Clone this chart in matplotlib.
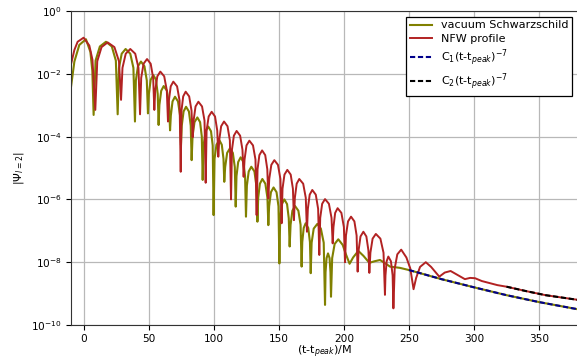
import numpy as np
import matplotlib.pyplot as plt

plt.rcParams["font.family"] = ["DejaVu Sans"]
plt.rcParams["font.size"] = 8

# |Psi_{l=2}|, stored as log10 values
# vacuum Schwarzschild (olive)
vac_t = [
    -10, -7.4, -3.6, 1.5, 4.9, 6.4, 7.4,
    8.9, 12.2, 16.9, 21.4, 24.5, 25.9,
    26.9, 29.0, 32.0, 35.6, 38.0, 39.2,
    39.9, 41.5, 43.8, 46.5, 48.3, 49.2,
    49.9, 51.3, 53.3, 55.4, 56.7, 57.4,
    58.0, 59.4, 61.3, 63.8, 65.4, 66.2,
    66.8, 68.1, 70.0, 72.3, 73.9, 74.6,
    75.2, 76.6, 78.5, 80.7, 82.1, 82.8,
    83.5, 85.0, 87.2, 89.3, 90.6, 91.3,
    92.0, 93.5, 95.6, 97.7, 99.0, 99.7,
    100.4, 101.9, 104.1, 106.0, 107.3, 107.9,
    108.6, 110.1, 112.3, 114.5, 116.0, 116.7,
    117.3, 118.6, 120.5, 122.6, 123.9, 124.6,
    125.3, 126.7, 128.7, 131.1, 132.6, 133.4,
    134.0, 135.3, 137.2, 139.5, 141.1, 141.8,
    142.4, 143.8, 145.8, 148.1, 149.6, 150.3,
    150.9, 152.2, 154.1, 156.2, 157.5, 158.2,
    158.9, 160.3, 162.3, 164.9, 166.6, 167.4,
    167.9, 169.0, 170.5, 172.5, 173.8, 174.4,
    175.1, 176.7, 179.5, 182.2, 184.4, 185.4,
    185.8, 186.6, 187.7, 188.9, 189.6, 190.0,
    190.9, 192.8, 195.6, 199.0, 201.5, 204.3, 207.0, 211.0, 215.0, 219.5,
    223.5, 227.7, 231.5, 235.4, 243.0, 250.0, 275.0, 300.0, 325.0, 350.0, 380.0,
]
vac_log = [
    -2.42, -1.61, -1.08, -0.9, -1.3, -1.9, -3.31,
    -1.58, -1.13, -0.98, -1.13, -1.58, -3.29,
    -1.81, -1.36, -1.21, -1.36, -1.81, -3.52,
    -2.21, -1.76, -1.61, -1.76, -2.21, -3.26,
    -2.64, -2.19, -2.04, -2.19, -2.64, -3.63,
    -2.99, -2.54, -2.39, -2.54, -2.99, -3.8,
    -3.33, -2.88, -2.73, -2.88, -3.33, -4.27,
    -3.65, -3.2, -3.05, -3.2, -3.65, -4.75,
    -3.99, -3.54, -3.39, -3.54, -3.99, -5.38,
    -4.28, -3.83, -3.68, -3.83, -4.28, -6.5,
    -4.71, -4.26, -4.11, -4.26, -4.71, -5.44,
    -4.97, -4.52, -4.37, -4.52, -4.97, -6.23,
    -5.26, -4.81, -4.66, -4.81, -5.26, -6.55,
    -5.56, -5.11, -4.96, -5.11, -5.56, -6.71,
    -5.95, -5.5, -5.35, -5.5, -5.95, -6.82,
    -6.22, -5.77, -5.62, -5.77, -6.22, -8.04,
    -6.6, -6.15, -6.0, -6.15, -6.6, -7.5,
    -6.81, -6.36, -6.21, -6.36, -6.81, -8.14,
    -7.36, -6.91, -6.76, -6.91, -7.36, -8.35,
    -7.38, -6.93, -6.78, -6.93, -7.38, -9.36,
    -8.32, -7.87, -7.72, -7.87, -8.32, -9.1,
    -7.87, -7.42, -7.27, -7.45, -7.75, -8.05, -7.85, -7.64, -7.8, -8.02,
    -7.97, -7.93, -8.03, -8.14, -8.18, -8.25, -8.54, -8.8, -9.05, -9.27, -9.5,
]

# NFW profile (red)
nfw_t = [
    -10, -7.4, -4.9, -0.3, 4.1, 6.5, 8.7,
    10.2, 13.5, 18.2, 23.4, 26.9, 28.5,
    29.6, 32.1, 35.6, 39.4, 41.9, 43.1,
    44.0, 45.8, 48.5, 51.3, 53.2, 54.1,
    54.8, 56.4, 58.7, 61.7, 63.7, 64.6,
    65.3, 66.7, 68.7, 71.6, 73.5, 74.4,
    75.0, 76.3, 78.2, 80.9, 82.7, 83.6,
    84.3, 85.8, 88.0, 90.8, 92.7, 93.6,
    94.3, 95.9, 98.2, 100.8, 102.5, 103.3,
    104.0, 105.5, 107.7, 110.4, 112.2, 113.1,
    113.8, 115.3, 117.4, 120.1, 121.9, 122.8,
    123.5, 125.0, 127.2, 130.0, 131.9, 132.8,
    133.5, 134.9, 137.0, 139.4, 141.0, 141.8,
    142.5, 144.1, 146.4, 149.2, 151.1, 152.0,
    152.7, 154.2, 156.4, 159.0, 160.7, 161.5,
    162.2, 163.6, 165.6, 168.6, 170.6, 171.5,
    172.2, 173.6, 175.6, 178.3, 180.1, 181.0,
    181.7, 183.2, 185.4, 188.4, 190.4, 191.3,
    191.9, 193.2, 195.1, 198.0, 199.9, 200.8,
    201.5, 203.1, 205.4, 208.0, 209.7, 210.5,
    211.2, 212.7, 214.9, 217.2, 218.8, 219.5,
    220.3, 222.0, 224.5, 228.0, 230.4, 231.5,
    231.9, 232.8, 234.1, 236.1, 237.4, 238.0,
    239.0, 241.0, 244.0, 248.0, 251.0, 253.5,
    255.5, 258.5, 262.9, 267.0, 273.3, 277.5, 282.0, 287.0, 293.0,
    297.0, 300.8, 306.0, 312.3, 318.0, 325.0, 340.0, 355.0, 380.0,
]
nfw_log = [
    -1.7, -1.24, -0.98, -0.85, -1.1, -1.55, -3.15,
    -1.6, -1.15, -1.0, -1.15, -1.6, -2.83,
    -1.81, -1.36, -1.21, -1.36, -1.81, -3.29,
    -2.13, -1.68, -1.53, -1.68, -2.13, -3.15,
    -2.53, -2.08, -1.93, -2.08, -2.53, -3.52,
    -2.85, -2.4, -2.25, -2.4, -2.85, -5.12,
    -3.17, -2.72, -2.57, -2.72, -3.17, -4.02,
    -3.49, -3.04, -2.89, -3.04, -3.49, -5.47,
    -3.81, -3.36, -3.21, -3.36, -3.81, -4.64,
    -4.12, -3.67, -3.52, -3.67, -4.12, -6.0,
    -4.42, -3.97, -3.82, -3.97, -4.42, -5.28,
    -4.73, -4.28, -4.13, -4.28, -4.73, -6.5,
    -5.04, -4.59, -4.44, -4.59, -5.04, -5.97,
    -5.35, -4.9, -4.75, -4.9, -5.35, -6.76,
    -5.66, -5.21, -5.06, -5.21, -5.66, -6.66,
    -5.95, -5.5, -5.35, -5.5, -5.95, -7.03,
    -6.3, -5.85, -5.7, -5.85, -6.3, -7.77,
    -6.59, -6.14, -5.99, -6.14, -6.59, -7.4,
    -6.88, -6.43, -6.28, -6.43, -6.88, -8.0,
    -7.15, -6.7, -6.55, -6.7, -7.15, -8.3,
    -7.63, -7.18, -7.03, -7.18, -7.63, -8.34,
    -7.7, -7.25, -7.1, -7.25, -7.7, -9.04,
    -8.42, -7.97, -7.82, -7.97, -8.42, -9.47,
    -8.2, -7.75, -7.6, -7.85, -8.2, -8.86,
    -8.5, -8.15, -8.0, -8.15, -8.46, -8.33, -8.28, -8.4, -8.54,
    -8.5, -8.51, -8.6, -8.67, -8.73, -8.78, -8.92, -9.05, -9.2,
]

# power-law tails
c1_t = [250, 275, 300, 325, 350, 380]
c1_log = [-8.25, -8.54, -8.8, -9.05, -9.27, -9.5]
c2_t = [325, 340, 355, 380]
c2_log = [-8.78, -8.92, -9.05, -9.2]

fig = plt.figure(figsize=(5.77, 3.6), dpi=100)
ax = fig.add_axes([71 / 577, 35 / 360, 507 / 577, 314 / 360])

ax.plot(vac_t, 10 ** np.array(vac_log), color="#808000", lw=1.5, label="vacuum Schwarzschild")
ax.plot(nfw_t, 10 ** np.array(nfw_log), color="#b22222", lw=1.4, label="NFW profile")
ax.plot(c1_t, 10 ** np.array(c1_log), color="#00008b", lw=1.5, ls=(0, (2.5, 1.3)),
        label=r"C$_1$(t-t$_{peak}$)$^{-7}$")
ax.plot(c2_t, 10 ** np.array(c2_log), color="black", lw=1.5, ls=(0, (2.5, 1.3)),
        label=r"C$_2$(t-t$_{peak}$)$^{-7}$")

ax.set_yscale("log")
ax.set_xlim(-10, 380)
ax.set_ylim(1e-10, 1e0)
ax.set_yticks([1e0, 1e-2, 1e-4, 1e-6, 1e-8, 1e-10])
ax.minorticks_off()
ax.set_xticks([0, 50, 100, 150, 200, 250, 300, 350])
ax.tick_params(labelsize=7.6, pad=3)
ax.grid(True, color="#b8b8b8", lw=0.9)
for s in ax.spines.values():
    s.set_color("#333333")

ax.set_xlabel("(t-t$_{peak}$)/M", fontsize=8, labelpad=0)
ax.set_ylabel(r"$|\Psi_{l=2}|$", fontsize=8)

leg = ax.legend(loc="upper right", fontsize=8, fancybox=False, framealpha=1,
                edgecolor="black", labelspacing=0.3, borderpad=0.35)
leg.get_frame().set_linewidth(0.9)

fig.savefig("out.png", dpi=100)
